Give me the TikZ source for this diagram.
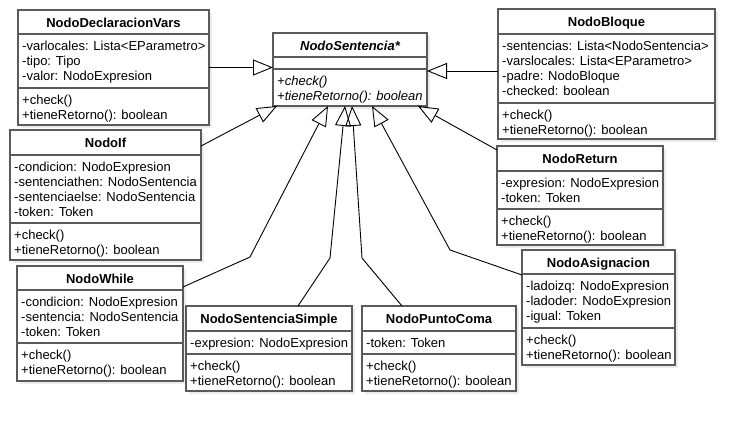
\documentclass[tikz,border=0pt]{standalone}
\usepackage{fontspec}
\setmainfont{Liberation Sans}
\usetikzlibrary{arrows.meta,calc}
\definecolor{boxc}{RGB}{90,90,90}
\definecolor{shad}{RGB}{236,236,236}
\tikzset{
  umlbox/.style={draw=boxc, line width=1.4pt, fill=white, inner sep=0pt, outer sep=0pt, anchor=north west},
  sepline/.style={draw=boxc, line width=1.4pt},
  ttl/.style={font=\fontsize{13}{15}\selectfont\bfseries, anchor=base, inner sep=0pt},
  mem/.style={font=\fontsize{13}{15}\selectfont, anchor=base west, inner sep=0pt},
  inh/.style={draw=black, line width=0.9pt, -{Triangle[open, length=20pt, width=16pt, line width=0.9pt]}},
}
% #1 name, #2 x1, #3 y1, #4 x2, #5 y2, #6 sep1, #7 sep2, #8 title, #9 attributes
\newcommand\umlclass[9]{%
  \fill[shad] ({#2+3},{#3+3}) rectangle ({#4+3},{#5+3});
  \node[umlbox, minimum width=#4pt-#2pt, minimum height=#5pt-#3pt] (#1) at (#2,#3) {};
  \draw[sepline] (#1.west |- 0,#6) -- (#1.east |- 0,#6);
  \draw[sepline] (#1.west |- 0,#7) -- (#1.east |- 0,#7);
  \node[ttl] (#1-t) at ({(#2+#4)/2},{#3+17.5}) {#8};
  \foreach \s [count=\i from 0] in {#9}
    \node[mem] (#1-a\i) at ({#2+4},{#6+16.8+15*\i}) {\s};
  \node[mem] (#1-m0) at ({#2+4},{#7+16.8}) {+check()};
  \node[mem] (#1-m1) at ({#2+4},{#7+31.8}) {+tieneRetorno(): boolean};
}
\begin{document}
\begin{tikzpicture}[x=1pt,y=-1pt]
\fill[white] (0,0) rectangle (755,431);
\useasboundingbox (0,0) rectangle (755,431);

% abstract class
\fill[shad] (276,36) rectangle (430,109);
\node[umlbox, minimum width=154pt, minimum height=73pt] (sent) at (273,33) {};
\draw[sepline] (sent.west |- 0,57) -- (sent.east |- 0,57);
\draw[sepline] (sent.west |- 0,69) -- (sent.east |- 0,69);
\node[ttl, font=\fontsize{13}{15}\selectfont\bfseries\itshape] (sent-t) at (350,50.5) {NodoSentencia*};
\node[mem, font=\fontsize{13}{15}\selectfont\itshape] (sent-m0) at (277,85.8) {+check()};
\node[mem, font=\fontsize{13}{15}\selectfont\itshape] (sent-m1) at (277,100.8) {+tieneRetorno(): boolean};

\umlclass{decl}{18}{10}{209}{125}{34}{88}{NodoDeclaracionVars}{-varlocales: Lista<EParametro>,-tipo: Tipo,-valor: NodoExpresion}
\umlclass{bloque}{498}{9}{715}{139}{34}{103}{NodoBloque}{-sentencias: Lista<NodoSentencia>,-varslocales: Lista<EParametro>,-padre: NodoBloque,-checked: boolean}
\umlclass{nif}{10}{130}{201}{260}{155}{223}{NodoIf}{-condicion: NodoExpresion,-sentenciathen: NodoSentencia,-sentenciaelse: NodoSentencia,-token: Token}
\umlclass{ret}{497}{146}{663}{245}{171}{209}{NodoReturn}{-expresion: NodoExpresion,-token: Token}
\umlclass{nwhile}{17}{266}{183}{381}{290}{343}{NodoWhile}{-condicion: NodoExpresion,-sentencia: NodoSentencia,-token: Token}
\umlclass{simple}{186}{306}{352}{391}{331}{354}{NodoSentenciaSimple}{-expresion: NodoExpresion}
\umlclass{punto}{362}{306}{516}{391}{331}{354}{NodoPuntoComa}{-token: Token}
\umlclass{asig}{522}{250}{675}{365}{274}{328}{NodoAsignacion}{-ladoizq: NodoExpresion,-ladoder: NodoExpresion,-igual: Token}

% bend points
\coordinate (bW) at (250,257);
\coordinate (bS) at (330,258);
\coordinate (bP) at (362,258);
\coordinate (bA) at (450,250);

% inheritance connectors
\draw[inh] (decl.east) -- (decl.east -| sent.west);
\draw[inh] ($(bloque.north west)+(0,62)$) -- ($(sent.north east)+(0,38)$);
\draw[inh] ($(nif.north east)+(0,16)$) -- ($(sent.south west)+(4,0)$);
\draw[inh] ($(nwhile.north east)+(0,21)$) -- (bW) -- ($(sent.south west)+(55,0)$);
\draw[inh] ($(simple.north west)+(112,0)$) -- (bS) -- ($(sent.south west)+(72,0)$);
\draw[inh] ($(punto.north west)+(40,0)$) -- (bP) -- ($(sent.south west)+(79,0)$);
\draw[inh] ($(asig.north west)+(0,25)$) -- (bA) -- ($(sent.south west)+(99,0)$);
\draw[inh] ($(ret.north west)+(0,4)$) -- ($(sent.south east)+(-9,0)$);
\end{tikzpicture}
\end{document}
